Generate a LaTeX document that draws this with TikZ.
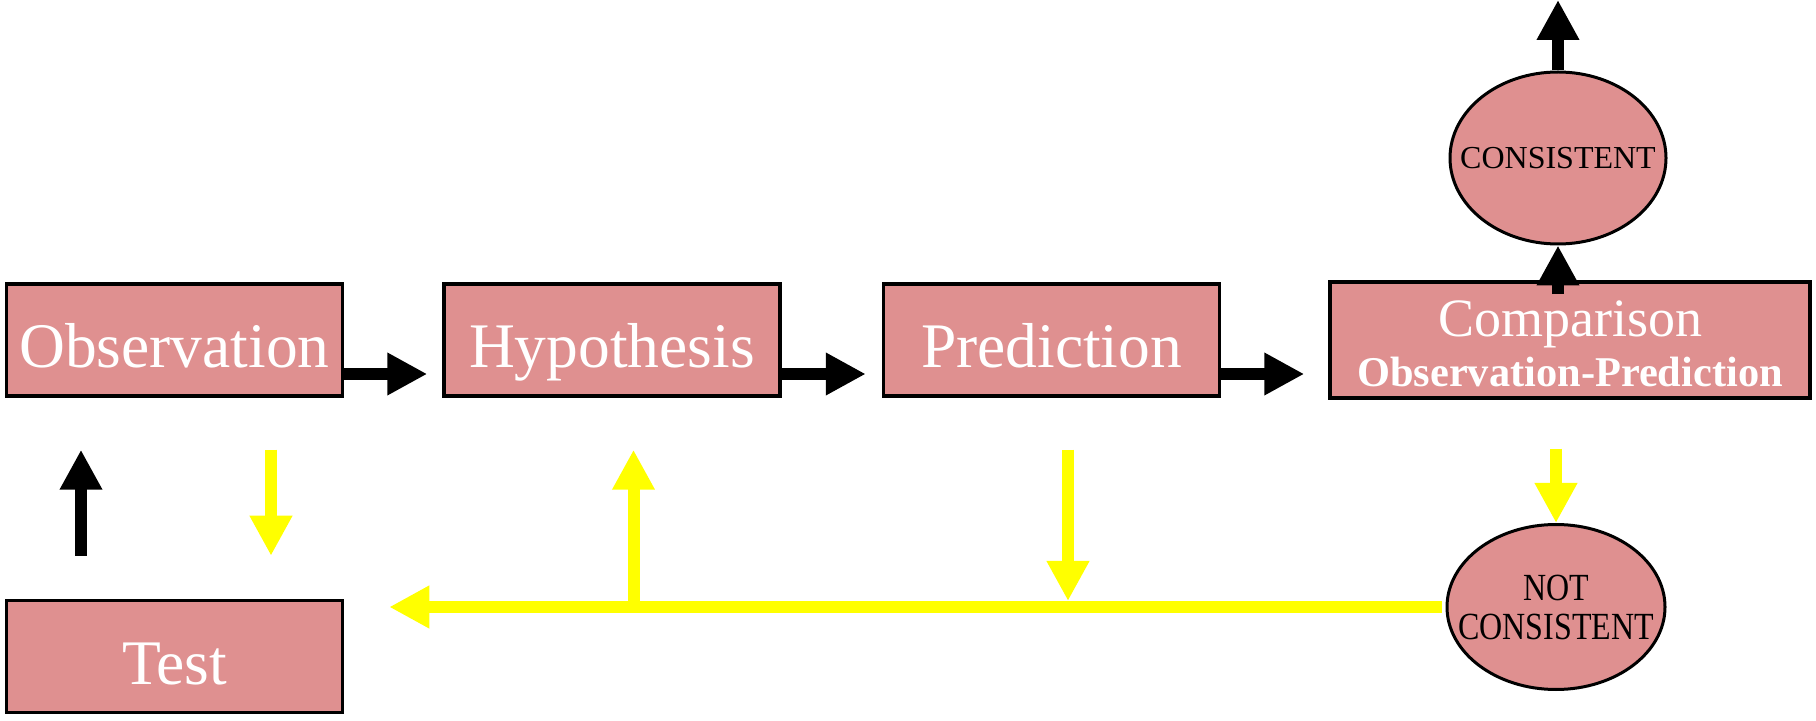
\documentclass[tikz,border=0pt]{standalone}
\usepackage{fontspec}
\setmainfont{Liberation Serif}[BoldFont={Liberation Serif Bold}]
\usepackage{color}
\definecolor{mypink}{RGB}{223,144,144}
\definecolor{myyellow}{RGB}{255,255,0}
\usepackage{tikz}
\usetikzlibrary{calc,arrows.meta,positioning,shapes.geometric}
\tikzstyle{stepbox}=[draw,line width=1.75pt,fill=mypink,minimum width=168pt,minimum height=56pt,inner sep=0pt,text=white,font=\fontsize{31.75}{36}\selectfont]
\tikzstyle{wordbox}=[stepbox,text height=29pt,text depth=1pt]
\tikzstyle{verdict}=[draw,ellipse,line width=1.5pt,fill=mypink,minimum width=108pt,minimum height=86pt,inner xsep=-12pt,inner ysep=0pt,align=center,font=\fontsize{16}{18}\selectfont]
\tikzstyle{flow}=[line width=6pt,-{Triangle[length=20pt,width=20pt]}]
\tikzstyle{feedback}=[flow,color=myyellow]

\begin{document}
\begin{tikzpicture}[x=0.5pt,y=-0.5pt]
\useasboundingbox (0,0) rectangle (1816,721);
% main row
\node [wordbox] (obs) at (174.5,340) {Observation};
\node [wordbox, right=49pt of obs] (hyp) {Hypothesis};
\node [wordbox, right=50pt of hyp] (pred) {Prediction};
\node [stepbox, right=53.5pt of pred, minimum width=240pt, minimum height=58pt, align=center, font=\fontsize{27}{25}\selectfont] (comp)
  {\rule{0pt}{22pt}Comparison\\{\fontsize{21.2}{25}\selectfont\bfseries Observation-Prediction}};
\node [wordbox] (test) at (174.5,656.5) {Test};
% outcomes
\node [verdict] (cons) at (1558,158) {CONSISTENT};
\node [verdict, minimum width=109pt, minimum height=82.5pt] (notcons) at (1556,607)
  {\scalebox{1}[1.2]{NOT}\\[1.5pt]\scalebox{1}[1.2]{CONSISTENT}};
\coordinate (top) at (1558,0);
\coordinate (back) at ($(test.east |- notcons.west)+(22.5pt,0)$);

\draw [flow] ([yshift=-17pt]obs.east) -- ([yshift=-17pt,xshift=-7.5pt]hyp.west);
\draw [flow] ([yshift=-17pt]hyp.east) -- ([yshift=-17pt,xshift=-8pt]pred.west);
\draw [flow] ([yshift=-17pt]pred.east) -- ([yshift=-17pt,xshift=-12pt]comp.west);
\draw [flow] ($(comp.north -| cons.south)+(0,-7pt)$) -- (cons.south);
\draw [flow] (cons.north) -- (top);
\draw [flow] ([xshift=-46.75pt,yshift=21.5pt]test.north) -- ([xshift=-46.75pt,yshift=-26pt]obs.south);

% feedback loop
\draw [feedback] ([xshift=48.25pt,yshift=-26pt]obs.south) -- ([xshift=48.25pt,yshift=21.5pt]test.north);
\draw [feedback] ($(comp.south -| notcons.north)+(0,-24.5pt)$) -- (notcons.north);
\draw [feedback] ([xshift=-2pt]notcons.west) -- (back);
\draw [feedback] ($(hyp.south |- back)+(10.75pt,0)$) -- ([xshift=10.75pt,yshift=-26pt]hyp.south);
\draw [feedback] ([xshift=8.25pt,yshift=-26pt]pred.south) -- ($(pred.south |- back)+(8.25pt,3pt)$);
\end{tikzpicture}
\end{document}
